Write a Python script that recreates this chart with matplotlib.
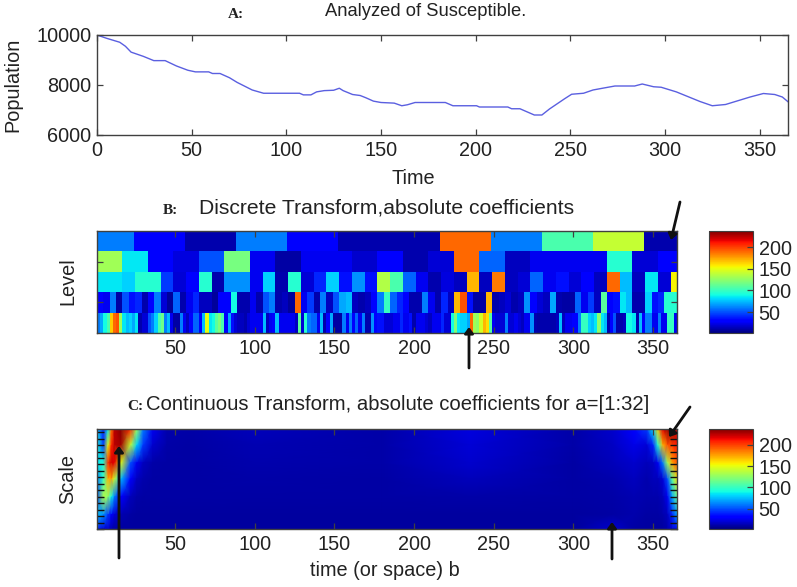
import numpy as np
import matplotlib
matplotlib.use("Agg")
import matplotlib.pyplot as plt

plt.rcParams['font.family'] = ['Liberation Sans', 'DejaVu Sans']

W, H = 797, 587
TXT = '#222222'
EDGE = '#404040'

# Panel A: susceptible population
days = [0, 5, 12, 15, 18, 24.5, 30, 36, 42, 48, 52, 59, 61, 65, 70, 74, 82, 88, 107, 109, 113, 116, 120, 125,
        128, 130, 135, 139, 142, 146, 150, 157, 161, 164, 168, 184, 188, 200.5, 202, 217, 219, 223.4, 231, 235,
        239, 247, 250.7, 257, 262, 267, 273.6, 284, 288, 294, 298, 306, 318.5, 325, 332, 345, 352, 358, 362, 365]
population = [10000, 9870, 9710, 9550, 9315, 9145, 8975, 8975, 8760, 8590, 8525, 8525, 8460, 8460, 8290, 8105,
              7800, 7670, 7670, 7605, 7605, 7725, 7775, 7790, 7870, 7775, 7620, 7580, 7490, 7355, 7300, 7275,
              7170, 7210, 7300, 7300, 7170, 7170, 7120, 7120, 7050, 7050, 6800, 6800, 7040, 7450, 7630, 7670,
              7800, 7870, 7960, 7960, 8040, 7930, 7910, 7725, 7340, 7170, 7220, 7520, 7660, 7620, 7520, 7330]

# Panel B: discrete coefficients per level, top row first
level5 = [60, 30, 12, 60, 30, 12, 12, 190, 60, 105, 140, 12]
level4 = [130, 85, 28, 22, 50, 118, 25, 10, 25, 25, 18, 30, 12, 20, 190, 55, 15, 25, 25, 25, 95, 20, 30]
level3 = [85, 85, 80, 95, 95, 45, 20, 30, 95, 12, 65, 65, 25, 80, 12, 95, 20, 40, 80, 35, 65, 35, 135,
          105, 55, 25, 12, 22, 15, 170, 15, 185, 15, 20, 55, 25, 35, 20, 30, 15, 190, 75, 15, 85, 20, 155]
level2 = [30, 25, 60, 10, 50, 35, 40, 12, 30, 60, 20, 8, 55, 12, 25, 40, 15, 15, 8, 28,
          28, 90, 12, 12, 25, 12, 50, 60, 12, 15, 8, 190, 25, 45, 12, 60, 15, 50, 70, 75,
          15, 12, 15, 30, 60, 100, 55, 40, 30, 12, 12, 60, 25, 12, 40, 15, 170, 195, 35, 10,
          10, 170, 12, 15, 20, 12, 15, 65, 30, 20, 15, 70, 12, 10, 10, 55, 25, 45, 15, 110,
          30, 35, 85, 75, 12, 12, 80, 35, 40, 95, 95]
level1 = [60, 70, 90, 105, 165, 190, 195, 130, 85, 75, 80, 70, 85, 12, 20, 20, 50, 60, 80, 105,
          115, 60, 75, 25, 10, 10, 60, 25, 15, 30, 55, 55, 30, 75, 150, 85, 90, 110, 120, 105,
          30, 70, 35, 20, 15, 15,
          12, 20, 25, 25, 25, 25, 75, 15, 25, 30, 75, 25, 25, 25, 25, 25, 15, 110, 20, 95,
          60, 55, 55, 25, 75, 12, 30, 70, 10, 10, 10, 60, 25, 60, 30, 55, 25, 60, 12, 12,
          65, 30, 35, 35, 20, 20, 20,
          25, 25, 40, 25, 25, 35, 12, 25, 25, 25, 20, 15, 25, 25, 25, 40, 20, 20, 90, 120,
          85, 80, 80, 70, 190, 130, 125, 145, 170, 160, 110, 25, 20, 20, 20, 60, 20, 20, 25,
          20, 15, 25, 25, 65, 12, 10, 12, 12,
          12, 12, 12, 15, 75, 15, 25, 25, 30, 30, 60, 100, 100, 80, 75, 85, 125, 85, 75, 12,
          30, 50, 12, 12, 15, 90, 90, 85, 12, 75, 30, 60, 60, 25, 25, 60, 25, 25, 100, 100, 25]
level_rows = [level5, level4, level3, level2, level1]
level_start = [-8, 1, 1, 1, 1]
level_width = [32, 16, 8, 4, 2]

# Panel C: continuous coefficients read at a coarse grid of positions and scales
b_nodes = [1, 5, 8, 10, 12, 16, 22, 26, 30, 36, 45, 60, 100, 180, 235, 300, 325, 338, 346, 350, 353, 356, 359, 362, 365]
a_nodes = [1, 6, 11.5, 16.5, 22, 27.5, 32]
cwt_a1 = [80, 40, 85, 185, 225, 235, 205, 130, 60, 25, 12, 11, 14, 11, 22, 11, 18, 30, 45, 85, 165, 215, 232, 235, 225]
cwt_a6 = [90, 45, 150, 205, 225, 230, 140, 80, 45, 18, 11, 10, 13, 11, 20, 11, 16, 24, 20, 40, 95, 170, 195, 200, 210]
cwt_a11 = [85, 95, 205, 220, 215, 150, 50, 25, 15, 11, 10, 10, 12, 11, 18, 10, 14, 18, 14, 16, 25, 60, 130, 175, 195]
cwt_a16 = [60, 100, 170, 175, 140, 75, 30, 15, 12, 10, 10, 10, 11, 10, 14, 10, 12, 15, 12, 14, 14, 20, 50, 110, 160]
cwt_a22 = [50, 135, 125, 90, 60, 30, 14, 11, 10, 10, 10, 10, 10, 10, 11, 10, 11, 13, 12, 12, 12, 14, 25, 70, 115]
cwt_a27 = [75, 65, 45, 30, 20, 13, 10, 9, 9, 9, 9, 9, 9, 9, 9, 9, 10, 12, 10, 10, 10, 12, 15, 40, 70]
cwt_a32 = [40, 20, 18, 12, 10, 9, 9, 9, 9, 9, 9, 9, 9, 9, 9, 9, 18, 10, 9, 9, 9, 9, 12, 20, 35]
cwt_rows = [cwt_a1, cwt_a6, cwt_a11, cwt_a16, cwt_a22, cwt_a27, cwt_a32]

VMIN, VMAX = 2, 237
xticks_a = [0, 50, 100, 150, 200, 250, 300, 350]
xticks_bc = [50, 100, 150, 200, 250, 300, 350]
yticks_a = [6000, 8000, 10000]
cbar_ticks = [50, 100, 150, 200]


def box(x0, y0, x1, y1):
    return [x0 / W, 1 - y1 / H, (x1 - x0) / W, (y1 - y0) / H]


def style(ax, top=True):
    for s in ax.spines.values():
        s.set_color(EDGE)
        s.set_linewidth(1.0)
    ax.tick_params(direction='in', length=4.5, width=0.9, color=EDGE, top=top, right=top,
                   labelsize=14.3, labelcolor=TXT, pad=4)


def label(x, y, s, **kw):
    kw.setdefault('fontsize', 14)
    kw.setdefault('color', TXT)
    kw.setdefault('va', 'center')
    fig.text(x / W, 1 - y / H, s, **kw)


def arrow(x0, y0, x1, y1):
    fig.add_artist(matplotlib.patches.FancyArrowPatch(
        (x0 / W, 1 - y0 / H), (x1 / W, 1 - y1 / H), transform=fig.transFigure,
        arrowstyle='-|>,head_length=3.5,head_width=2.6', color='#111111', lw=2.0,
        shrinkA=0, shrinkB=0, zorder=20))


fig = plt.figure(figsize=(W / 100, H / 100), dpi=100)

# A
axA = fig.add_axes(box(97, 35, 788, 135))
axA.plot(days, population, color='#5a5fe0', lw=1.0)
axA.set_xlim(0, 365)
axA.set_ylim(6000, 10000)
axA.set_xticks(xticks_a)
axA.set_yticks(yticks_a)
style(axA)

# B
axB = fig.add_axes(box(97, 231, 677, 333))
for row, (vals, start, width) in enumerate(zip(level_rows, level_start, level_width), start=1):
    edges = start + width * np.arange(len(vals) + 1)
    mesh = axB.pcolormesh(edges, [row - 0.5, row + 0.5], np.array([vals], dtype=float),
                          cmap='jet', vmin=VMIN, vmax=VMAX, shading='flat')
axB.set_xlim(1, 365)
axB.set_ylim(5.5, 0.5)
axB.set_xticks(xticks_bc)
axB.set_yticks([2, 4])
axB.set_yticklabels([])
style(axB)

# C
axC = fig.add_axes(box(97, 429, 677, 529))
meshC = axC.pcolormesh(b_nodes, a_nodes, np.array(cwt_rows, dtype=float), cmap='jet',
                       vmin=VMIN, vmax=VMAX, shading='gouraud')
axC.set_xlim(1, 365)
axC.set_ylim(32, 1)
axC.set_xticks(xticks_bc)
axC.set_yticks(np.arange(2, 33, 2))
axC.set_yticklabels([])
style(axC)
axC.tick_params(axis='y', color='#111111', width=1.0, length=5)

# Colour bars
for (y0, y1), m in zip([(231, 333), (429, 529)], [mesh, meshC]):
    cax = fig.add_axes(box(709, y0, 753, y1))
    cb = fig.colorbar(m, cax=cax)
    cb.set_ticks(cbar_ticks)
    cb.outline.set_edgecolor(EDGE)
    cax.tick_params(direction='in', length=4, width=0.9, color=EDGE, labelsize=14.3,
                    labelcolor=TXT, pad=4)

# Titles and axis names
serif = dict(family='Liberation Serif', fontweight='bold', fontsize=11, ha='center')
label(236, 14, 'A:', **serif)
label(170, 211, 'B:', **serif)
label(135, 406, 'C:', **serif)
label(325, 11, 'Analyzed of Susceptible.', ha='left', fontsize=13.2)
label(199, 208, 'Discrete Transform,absolute coefficients', ha='left', fontsize=15.2)
label(146, 404, 'Continuous Transform, absolute coefficients for a=[1:32]', ha='left', fontsize=14.6)
label(413, 179, 'Time', ha='center', fontsize=14.3)
label(385, 570, 'time (or space) b', ha='center', fontsize=14.3)
label(13, 85, 'Population', rotation=90, ha='center', fontsize=14.3)
label(68, 281, 'Level', rotation=90, ha='center', fontsize=14.3)
label(68, 479, 'Scale', rotation=90, ha='center', fontsize=14.3)

# Annotation arrows
arrow(680, 202, 671, 240)
arrow(469, 368, 469, 327)
arrow(119, 558, 119, 446)
arrow(690, 407, 669, 437)
arrow(612, 559, 612, 522)

fig.savefig('out.png', dpi=100)
